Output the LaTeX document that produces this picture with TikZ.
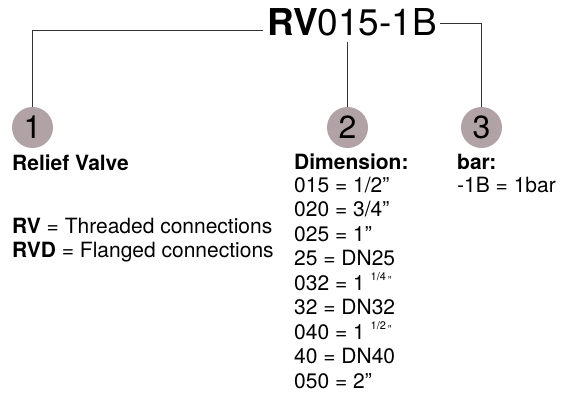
\documentclass[tikz,border=0pt]{standalone}
\usepackage{fontspec}
\setmainfont{TeX Gyre Heros}
\usetikzlibrary{positioning}

\definecolor{badgegrey}{RGB}{177,162,165}
\newcommand{\upfrac}[1]{{\fontsize{11}{11}\selectfont\raisebox{10pt}{#1}\,\raisebox{5.5pt}{”}}}

\tikzset{
  badge/.style={circle, fill=badgegrey, minimum size=41pt, inner sep=0pt, font=\fontsize{32}{32}\selectfont},
  entry/.style={anchor=base west, inner sep=0pt, font=\fontsize{21}{21}\selectfont},
  lead/.style={draw=black!80, line width=1pt},
}

\begin{document}
\begin{tikzpicture}[x=1pt,y=-1pt]
		\useasboundingbox (0,0) rectangle (563,394);
		% type code
		\node[anchor=base west, inner sep=0pt, font=\fontsize{37}{37}\selectfont] (code) at (267,35) {\textbf{RV}015-1B};
		\node[badge] (b1) at (32.5,127.5) {1};
		\node[badge] (b2) at (347.5,127.5) {2};
		\node[badge] (b3) at (481.5,127.5) {3};
		\draw[lead] ([shift={(-4,-5)}]code.base west) -| (b1.north);
		\draw[lead] ([yshift=-6.5pt]code.base -| b2.north) -- (b2.north);
		\draw[lead] ([shift={(3,-12)}]code.base east) -| (b3.north);
		% column 1
		\node[entry] (valve) at (12,170) {\textbf{Relief Valve}};
		\node[entry] (rv) at (12,233) {\textbf{RV} = Threaded connections};
		\node[entry] (rvd) at (12,257.5) {\textbf{RVD} = Flanged connections};
		% column 2
		\node[entry] (dim) at (294,169) {\textbf{Dimension:}};
		\foreach \txt [count=\i from 0] in {{015 = 1/2”}, {020 = 3/4”}, {025 = 1”}, {25 = DN25}, {032 = 1 \upfrac{1/4}}, {32 = DN32}, {040 = 1 \upfrac{1/2}}, {40 = DN40}, {050 = 2”}}
			\node[entry] (dim\i) at (294,192+24.5*\i) {\txt};
		% column 3
		\node[entry] (bar) at (457,169) {\textbf{bar:}};
		\node[entry] (bar1) at (457,192) {-1B = 1bar};
	\end{tikzpicture}
\end{document}
